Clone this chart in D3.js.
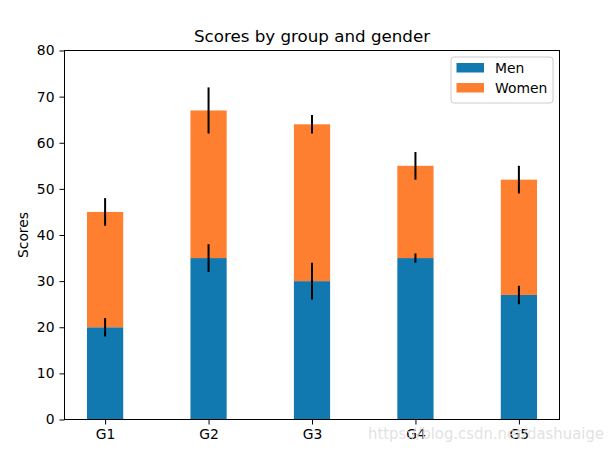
<!DOCTYPE html>
<html>
<head>
<meta charset="utf-8">
<script src="https://cdn.jsdelivr.net/npm/d3@7"></script>
<style>
  body { margin: 0; background: #fff; }
  text { font-family: "DejaVu Sans", sans-serif; }
</style>
</head>
<body>
<script>
// Group labels.
const groups = ["G1", "G2", "G3", "G4", "G5"];

// Mean scores.
const menMeans = [20, 35, 30, 35, 27];
const womenMeans = [25, 32, 34, 20, 25];

// Standard deviations.
const menStd = [2, 3, 4, 1, 2];
const womenStd = [3, 5, 2, 3, 3];

// Y tick values.
const yTicks = [0, 10, 20, 30, 40, 50, 60, 70, 80];

// Bar width in data units.
const BarWidth = 0.35;

const MenColor = "#1178b0";
const WomenColor = "#fe7f30";

const W = 613, H = 451;
const axLeft = 64.5, axRight = 559.5, axTop = 50.5, axBottom = 419.5;

const svg = d3.select("body").append("svg")
    .attr("width", W)
    .attr("height", H);

// X scale on group index, with matplotlib's 5% margins.
const x = d3.scaleLinear()
    .domain([-0.3925, 4.3925])
    .range([axLeft, axRight]);

const y = d3.scaleLinear()
    .domain([0, 80])
    .range([axBottom, axTop]);

const bw = x(BarWidth) - x(0);

// Men bars.
svg.append("g").selectAll("rect")
    .data(menMeans)
    .join("rect")
    .attr("x", (d, i) => x(i) - bw / 2)
    .attr("y", d => y(d))
    .attr("width", bw)
    .attr("height", d => y(0) - y(d))
    .attr("fill", MenColor);

// Women bars stacked on men.
svg.append("g").selectAll("rect")
    .data(womenMeans)
    .join("rect")
    .attr("x", (d, i) => x(i) - bw / 2)
    .attr("y", (d, i) => y(menMeans[i] + d))
    .attr("width", bw)
    .attr("height", (d, i) => y(menMeans[i]) - y(menMeans[i] + d))
    .attr("fill", WomenColor);

// Error bars.
const errLine = function (tops, errs) {
    svg.append("g").selectAll("line")
        .data(tops)
        .join("line")
        .attr("x1", (d, i) => x(i))
        .attr("x2", (d, i) => x(i))
        .attr("y1", (d, i) => y(d - errs[i]))
        .attr("y2", (d, i) => y(d + errs[i]))
        .attr("stroke", "black")
        .attr("stroke-width", 2);
};
errLine(menMeans, menStd);
errLine(menMeans.map((m, i) => m + womenMeans[i]), womenStd);

// Axes.
const xAxis = svg.append("g")
    .attr("transform", `translate(0,${axBottom})`)
    .call(d3.axisBottom(x).tickValues(d3.range(groups.length))
        .tickFormat(i => groups[i]).tickSize(5).tickPadding(5));

const yAxis = svg.append("g")
    .attr("transform", `translate(${axLeft},0)`)
    .call(d3.axisLeft(y).tickValues(yTicks).tickSize(5).tickPadding(5));

[xAxis, yAxis].forEach(a => {
    a.select(".domain").remove();
    a.selectAll("text").attr("font-size", 13.9).attr("fill", "black")
        .attr("font-family", "DejaVu Sans");
    a.selectAll("line").attr("stroke", "black").attr("stroke-width", 1);
});

// Frame.
svg.append("rect")
    .attr("x", axLeft).attr("y", axTop)
    .attr("width", axRight - axLeft).attr("height", axBottom - axTop)
    .attr("fill", "none")
    .attr("stroke", "black")
    .attr("stroke-width", 1);

// Title and y label.
svg.append("text")
    .attr("x", (axLeft + axRight) / 2)
    .attr("y", axTop - 9)
    .attr("text-anchor", "middle")
    .attr("font-size", 16.7)
    .text("Scores by group and gender");

svg.append("text")
    .attr("transform", `translate(28,${(axTop + axBottom) / 2}) rotate(-90)`)
    .attr("text-anchor", "middle")
    .attr("font-size", 13.9)
    .text("Scores");

// Legend.
const legend = svg.append("g").attr("transform", "translate(451,57)");
legend.append("rect")
    .attr("width", 102).attr("height", 46)
    .attr("rx", 3)
    .attr("fill", "white")
    .attr("fill-opacity", 0.8)
    .attr("stroke", "#cccccc");
[["Men", MenColor], ["Women", WomenColor]].forEach(([name, color], i) => {
    legend.append("rect")
        .attr("x", 5.5).attr("y", 6 + i * 20)
        .attr("width", 27.5).attr("height", 9.5)
        .attr("fill", color);
    legend.append("text")
        .attr("x", 44).attr("y", 15.5 + i * 20)
        .attr("font-size", 13.9)
        .text(name);
});

// Watermark.
svg.append("text")
    .attr("x", 368).attr("y", 439)
    .attr("textLength", 236)
    .attr("lengthAdjust", "spacingAndGlyphs")
    .attr("font-family", "Liberation Sans")
    .attr("font-size", 16)
    .attr("fill", "#dcdcdc")
    .attr("fill-opacity", 0.85)
    .text("https://blog.csdn.net/dashuaige");
</script>
</body>
</html>
